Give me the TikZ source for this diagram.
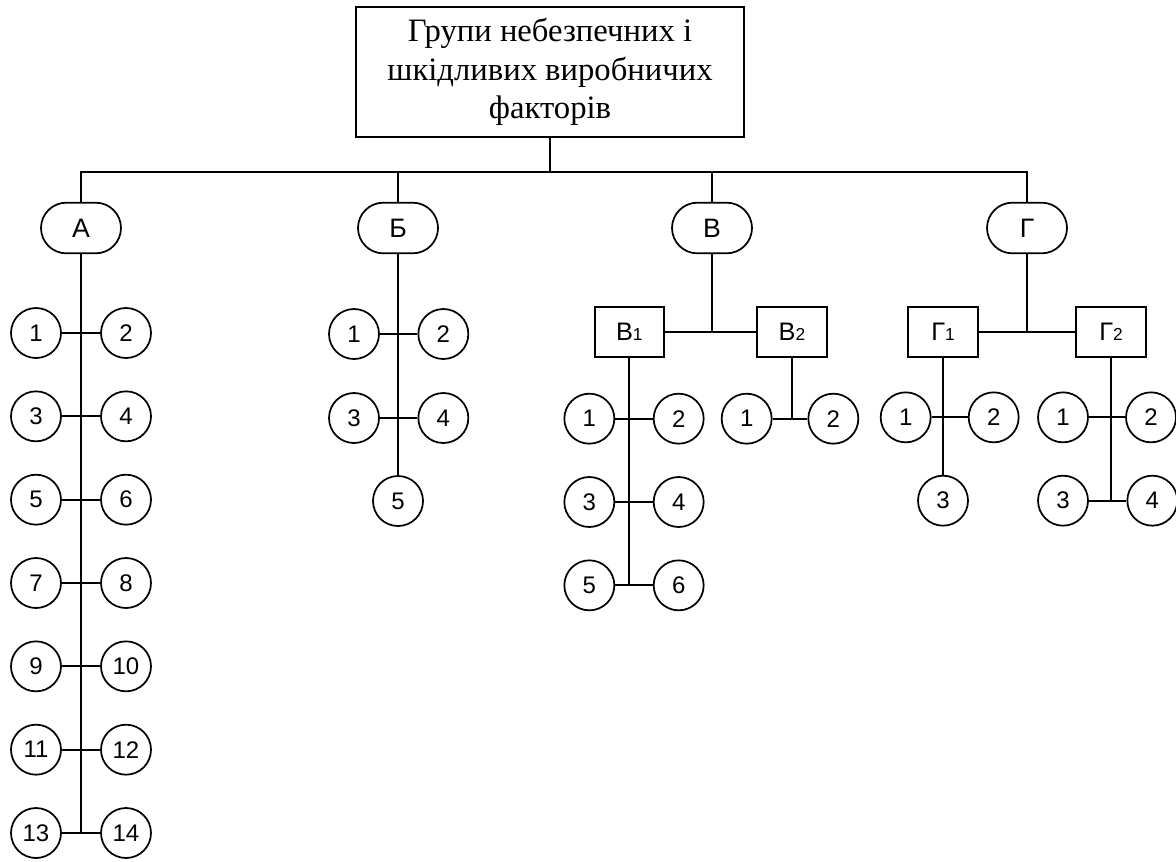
\documentclass[tikz,border=0pt]{standalone}
\usepackage{fontspec}
\setmainfont{Liberation Serif}
\newfontfamily\labelfont{Liberation Sans}
\usetikzlibrary{positioning}

\begin{document}
\begin{tikzpicture}[x=0.75pt, y=-0.75pt, node distance=62.5pt, line width=1.3pt]
    \tikzstyle{grp}=[draw, rounded corners=19pt, minimum width=60pt, minimum height=38pt, font=\labelfont\fontsize{20}{22}\selectfont]
    \tikzstyle{sub}=[draw, minimum width=52pt, minimum height=37pt, font=\labelfont\fontsize{19}{21}\selectfont]
    \tikzstyle{fac}=[draw, circle, minimum size=37.5pt, inner sep=0pt, font=\labelfont\fontsize{18}{20}\selectfont]
    \newcommand{\ix}[1]{{\fontsize{13}{13}\selectfont #1}}

    \useasboundingbox (0,0) rectangle (1176,861);

    \node[draw, minimum width=291pt, minimum height=97pt, align=center, font=\fontsize{24.5}{29}\selectfont] (title) at (550,72)
        {Групи небезпечних і\\ шкідливих виробничих\\ факторів};
    \coordinate (bus) at (550,172);

    \node[grp] (A) at (81,228) {А};
    \node[grp] (B) at (398,228) {Б};
    \node[grp] (V) at (712,228) {В};
    \node[grp] (G) at (1027,228) {Г};

    \draw (title) -- (bus);
    \draw (A) |- (bus) -| (G);
    \draw (B) |- (bus);
    \draw (V) |- (bus);

    % group A
    \node[fac, below of=A, node distance=78.75pt, xshift=-33.75pt] (a1) {1};
    \node[fac, right of=a1, node distance=67.5pt] (a2) {2};
    \node[fac, below of=a1] (a3) {3};
    \node[fac, right of=a3, node distance=67.5pt] (a4) {4};
    \node[fac, below of=a3] (a5) {5};
    \node[fac, right of=a5, node distance=67.5pt] (a6) {6};
    \node[fac, below of=a5] (a7) {7};
    \node[fac, right of=a7, node distance=67.5pt] (a8) {8};
    \node[fac, below of=a7] (a9) {9};
    \node[fac, right of=a9, node distance=67.5pt] (a10) {10};
    \node[fac, below of=a9] (a11) {11};
    \node[fac, right of=a11, node distance=67.5pt] (a12) {12};
    \node[fac, below of=a11] (a13) {13};
    \node[fac, right of=a13, node distance=67.5pt] (a14) {14};

    \draw (A) -- (A |- a13);
    \draw (a1) -- (a2);
    \draw (a3) -- (a4);
    \draw (a5) -- (a6);
    \draw (a7) -- (a8);
    \draw (a9) -- (a10);
    \draw (a11) -- (a12);
    \draw (a13) -- (a14);

    % group B
    \node[fac, below of=B, node distance=79.5pt, xshift=-33pt] (b1) {1};
    \node[fac, right of=b1, node distance=67pt] (b2) {2};
    \node[fac, below of=b1, node distance=63pt] (b3) {3};
    \node[fac, right of=b3, node distance=67pt] (b4) {4};
    \node[fac, below of=B, node distance=204.75pt] (b5) {5};

    \draw (B) -- (b5);
    \draw (b1) -- (b2);
    \draw (b3) -- (b4);

    % group V
    \node[sub, below of=V, node distance=78pt, xshift=-62pt] (V1) {В\ix{1}};
    \node[sub, right of=V1, node distance=122pt] (V2) {В\ix{2}};
    \node[fac, below of=V1, node distance=65pt, xshift=-30pt] (v1) {1};
    \node[fac, right of=v1, node distance=67pt] (v2) {2};
    \node[fac, below of=v1] (v3) {3};
    \node[fac, right of=v3, node distance=67pt] (v4) {4};
    \node[fac, below of=v3] (v5) {5};
    \node[fac, right of=v5, node distance=67pt] (v6) {6};
    \node[fac, below of=V2, node distance=65pt, xshift=-34pt] (w1) {1};
    \node[fac, right of=w1, node distance=65pt] (w2) {2};

    \draw (V) -- (V |- V1);
    \draw (V1) -- (V2);
    \draw (V1) -- (V1 |- v5);
    \draw (v1) -- (v2);
    \draw (v3) -- (v4);
    \draw (v5) -- (v6);
    \draw (V2) -- (V2 |- w1);
    \draw (w1) -- (w2);

    % group G
    \node[sub, below of=G, node distance=78pt, xshift=-63pt] (G1) {Г\ix{1}};
    \node[sub, right of=G1, node distance=126pt] (G2) {Г\ix{2}};
    \node[fac, below of=G1, node distance=64pt, xshift=-28pt] (g1) {1};
    \node[fac, right of=g1, node distance=66pt] (g2) {2};
    \node[fac, below of=G1, node distance=126.5pt] (g3) {3};
    \node[fac, below of=G2, node distance=64pt, xshift=-36pt] (h1) {1};
    \node[fac, right of=h1, node distance=66pt] (h2) {2};
    \node[fac, below of=h1] (h3) {3};
    \node[fac, right of=h3, node distance=67pt] (h4) {4};

    \draw (G) -- (G |- G1);
    \draw (G1) -- (G2);
    \draw (G1) -- (g3);
    \draw (g1) -- (g2);
    \draw (G2) -- (G2 |- h3);
    \draw (h1) -- (h2);
    \draw (h3) -- (h4);
  \end{tikzpicture}
\end{document}
